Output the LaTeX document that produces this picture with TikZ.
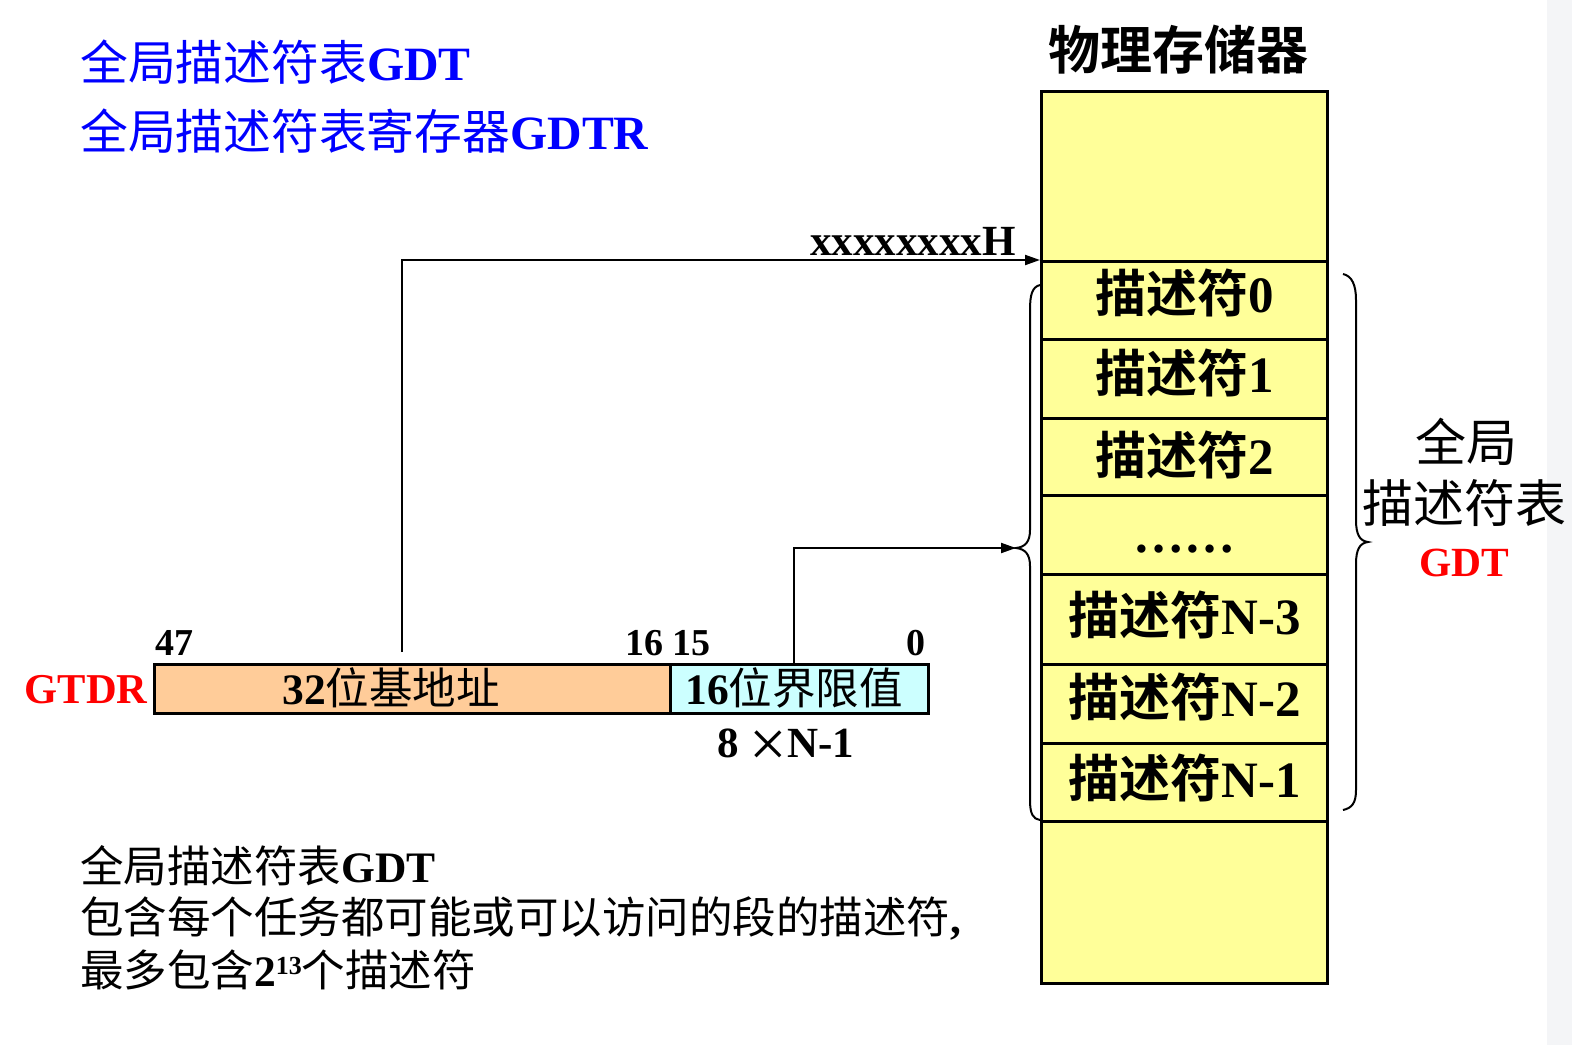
\documentclass[tikz,border=0pt]{standalone}
\usepackage{fontspec}
\setmainfont{Liberation Serif}
\newfontfamily\cjk{Noto Sans CJK SC}
\newfontfamily\cjkb{Noto Sans CJK SC Bold}
\usetikzlibrary{arrows.meta}
\definecolor{memyellow}{RGB}{255,255,153}
\definecolor{barorange}{RGB}{255,204,153}
\definecolor{barcyan}{RGB}{204,255,255}
\definecolor{stripgray}{RGB}{244,245,247}
\newcommand{\fs}[1]{\fontsize{#1}{#1}\selectfont}
\tikzset{
  memcell/.style={draw, fill=memyellow, line width=2.5pt, inner sep=0pt, anchor=north west, minimum width=286pt},
  barcell/.style={draw, line width=2.5pt, inner sep=0pt, anchor=north west, minimum height=49pt},
  rowtxt/.style={inner sep=0pt, font=\fs{51}},
  txt/.style={inner sep=0pt},
  arr/.style={line width=2pt, -{Triangle[length=15pt,width=10pt]}},
  bracestyle/.style={line width=2pt}
}
\begin{document}
\begin{tikzpicture}[x=1pt,y=-1pt]
\useasboundingbox (0,0) rectangle (1572,1045);
\fill[stripgray] (1547,0) rectangle (1572,1045);
% titles
\node[txt, anchor=west, text=blue] (t1) at (80,62) {\fs{47.8}{\cjk 全局描述符表}\textbf{GDT}};
\node[txt, anchor=west, text=blue] (t2) at (80,131) {\fs{47.8}{\cjk 全局描述符表寄存器}\textbf{GDTR}};
\node[txt] (memtitle) at (1178,50) {\fs{52}\cjkb 物理存储器};
% memory
\node[memcell, minimum height=170pt] (mtop) at (1040,90) {};
\node[memcell, minimum height=78pt] (r0) at (1040,260) {};
\node[memcell, minimum height=79pt] (r1) at (1040,338) {};
\node[memcell, minimum height=77pt] (r2) at (1040,417) {};
\node[memcell, minimum height=79pt] (rd) at (1040,494) {};
\node[memcell, minimum height=90pt] (r3) at (1040,573) {};
\node[memcell, minimum height=79pt] (r4) at (1040,663) {};
\node[memcell, minimum height=78pt] (r5) at (1040,742) {};
\node[memcell, minimum height=162pt] (mbot) at (1040,820) {};
\node[rowtxt] (l0) at (1185,293) {{\cjkb 描述符}\textbf{0}};
\node[rowtxt] (l1) at (1185,373) {{\cjkb 描述符}\textbf{1}};
\node[rowtxt] (l2) at (1185,455) {{\cjkb 描述符}\textbf{2}};
\node[rowtxt, anchor=base] (ld) at (1184,552) {\textbf{……}};
\node[rowtxt] (l3) at (1185,615) {{\cjkb 描述符}\textbf{N-3}};
\node[rowtxt] (l4) at (1185,697) {{\cjkb 描述符}\textbf{N-2}};
\node[rowtxt] (l5) at (1185,778) {{\cjkb 描述符}\textbf{N-1}};
% braces
\coordinate (btip) at (1016,548);
\draw[bracestyle] (1040,285) .. controls (1032,287) and (1030,295) .. (1030,310) -- (1030,530) .. controls (1030,542) and (1025,547) .. (btip) .. controls (1025,549) and (1030,554) .. (1030,566) -- (1030,800) .. controls (1030,814) and (1033,819) .. (1040,820);
\draw[bracestyle] (1343,274) .. controls (1352,276) and (1356,285) .. (1356,300) -- (1356,520) .. controls (1356,535) and (1360,541) .. (1368,542) .. controls (1360,543) and (1356,549) .. (1356,564) -- (1356,790) .. controls (1356,803) and (1352,808) .. (1343,810);
\node[txt] (g1) at (1466,442) {\fs{51}\cjk 全局};
\node[txt] (g2) at (1464,503) {\fs{51}\cjk 描述符表};
\node[txt, text=red] (g3) at (1464,563) {\fs{41.5}\textbf{GDT}};
% address label
\node[txt, anchor=base east] (addr) at (1016,255) {\fs{43}\textbf{xxxxxxxxH}};
% register bar
\node[barcell, fill=barorange, minimum width=516pt] (base) at (153,663) {};
\node[barcell, fill=barcyan, minimum width=258pt] (lim) at (669,663) {};
\node[txt] (basetxt) at (391,688) {\fs{43.5}\textbf{32}{\cjk 位基地址}};
\node[txt] (limtxt) at (794,688) {\fs{43.5}\textbf{16}{\cjk 位界限值}};
\node[txt, anchor=east, text=red] (gtdr) at (148,690) {\fs{42.5}\textbf{GTDR}};
\node[txt, anchor=west] (n47) at (155,643) {\fs{38}\textbf{47}};
\node[txt] (n1615) at (668,643) {\fs{38}\textbf{16 15}};
\node[txt] (n0) at (916,643) {\fs{38}\textbf{0}};
\node[txt, anchor=base] (size) at (786,757) {\fs{43}\textbf{8}\ \raisebox{-9pt}{\scalebox{1.55}{×}}\textbf{N-1}};
% arrows
\coordinate (a1s) at (402,652);
\draw[arr] (a1s) |- (r0.north west);
\draw[arr] ([xshift=-5pt]lim.north) |- (btip);
% bottom text
\node[txt, anchor=west] (b1) at (80,866) {\fs{43.5}{\cjk 全局描述符表}\textbf{GDT}};
\node[txt, anchor=west] (b2) at (80,918) {\fs{43.5}{\cjk 包含每个任务都可能或可以访问的段的描述符}\textbf{,}};
\node[txt, anchor=west] (b3) at (80,970) {\fs{43.5}{\cjk 最多包含}\textbf{2}\raisebox{12pt}{\fs{26}\textbf{13}}{\cjk 个描述符}};
\end{tikzpicture}
\end{document}
